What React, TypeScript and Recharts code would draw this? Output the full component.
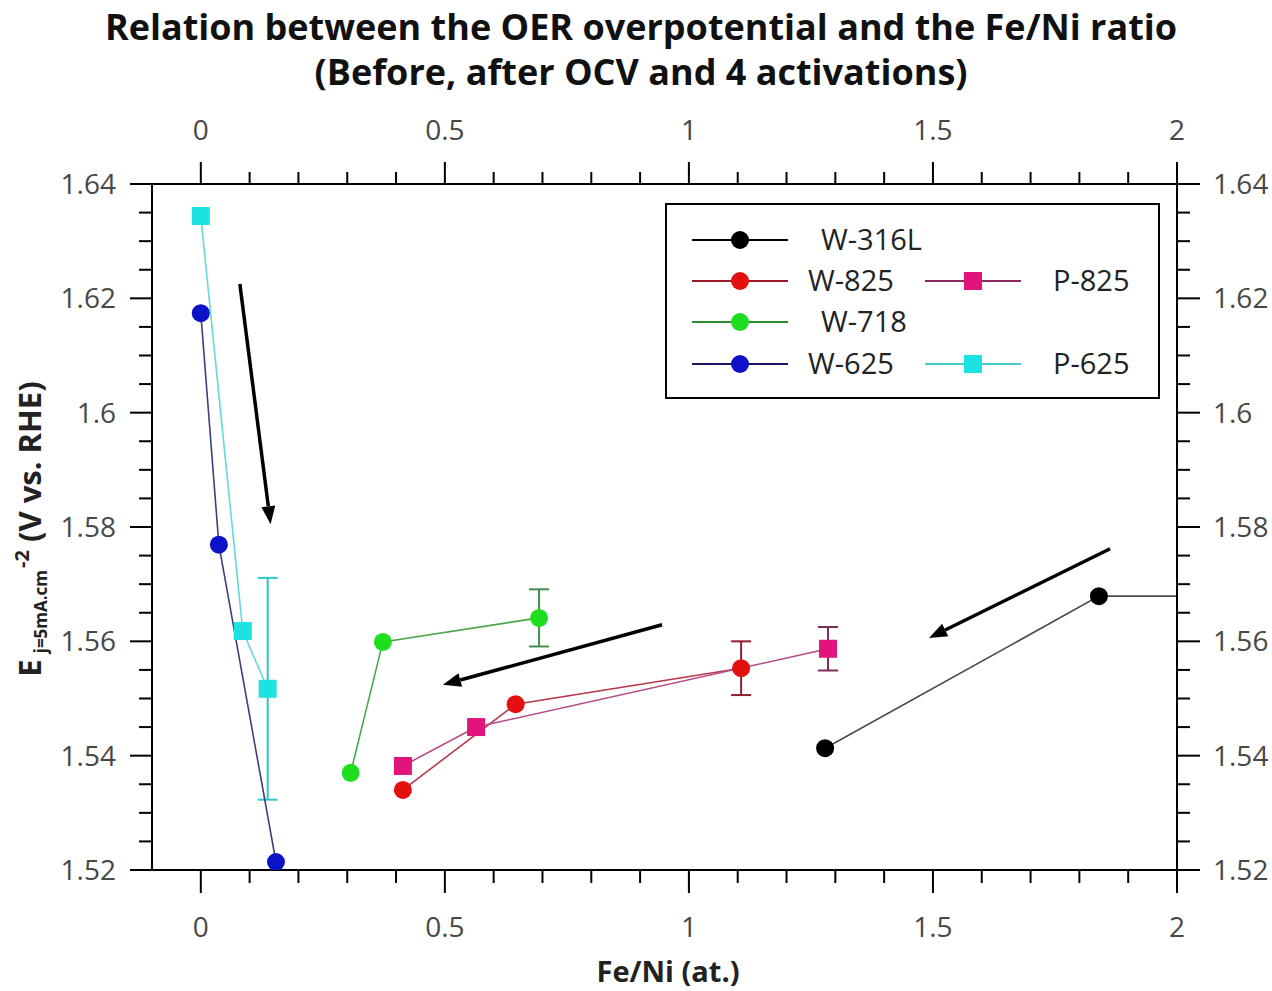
import React from 'react';
import { ComposedChart, Line, XAxis, YAxis, ErrorBar, ReferenceLine } from 'recharts';

const FONT = '"Open Sans", "Noto Sans", sans-serif';

// tick values (major ones get labels)
const xMajorTicks = [0, 0.5, 1, 1.5, 2];
const xAllTicks = [0, 0.1, 0.2, 0.3, 0.4, 0.5, 0.6, 0.7, 0.8, 0.9, 1, 1.1, 1.2, 1.3, 1.4, 1.5, 1.6, 1.7, 1.8, 1.9, 2];
const yMajorTicks = [1.52, 1.54, 1.56, 1.58, 1.6, 1.62, 1.64];
const yAllTicks = [
  1.52, 1.525, 1.53, 1.535, 1.54, 1.545, 1.55, 1.555, 1.56, 1.565, 1.57, 1.575, 1.58,
  1.585, 1.59, 1.595, 1.6, 1.605, 1.61, 1.615, 1.62, 1.625, 1.63, 1.635, 1.64,
];

// x = Fe/Ni (at.), y = E at 5 mA/cm2 (V vs RHE), err = +/- error
const W316L = [
  { x: 1.279, y: 1.5413 },
  { x: 1.84, y: 1.5679 },
  { x: 2.45, y: 1.5679 }, // off scale, the line runs out past the right axis
];
const W825 = [
  { x: 0.414, y: 1.534 },
  { x: 0.645, y: 1.549 },
  { x: 1.107, y: 1.5553, err: 0.0047 },
];
const W718 = [
  { x: 0.307, y: 1.537 },
  { x: 0.373, y: 1.5599 },
  { x: 0.693, y: 1.5641, err: 0.005 },
];
const W625 = [
  { x: 0, y: 1.6174 },
  { x: 0.037, y: 1.5769 },
  { x: 0.154, y: 1.5214 },
];
const P825 = [
  { x: 0.414, y: 1.5382 },
  { x: 0.564, y: 1.545 },
  { x: 1.285, y: 1.5587, err: 0.0038 },
];
const P625 = [
  { x: 0, y: 1.6344 },
  { x: 0.086, y: 1.5618 },
  { x: 0.137, y: 1.5517, err: 0.0194 },
];

// annotation arrows (from -> to)
const ARROWS = [
  [{ x: 0.08, y: 1.6225 }, { x: 0.143, y: 1.5805 }],
  [{ x: 0.945, y: 1.5629 }, { x: 0.496, y: 1.5524 }],
  [{ x: 1.863, y: 1.5762 }, { x: 1.492, y: 1.5606 }],
];

const SERIES = [
  { name: 'W-316L', data: W316L, line: '#4a4a4a', fill: '#000000', err: '#000000', shape: 'circle' },
  { name: 'W-825', data: W825, line: '#b8384c', fill: '#e41010', err: '#8e1e2c', shape: 'circle' },
  { name: 'P-825', data: P825, line: '#b84a86', fill: '#e2147c', err: '#7e2a5c', shape: 'square' },
  { name: 'W-718', data: W718, line: '#4aa84a', fill: '#1fde1f', err: '#3f8f4f', shape: 'circle' },
  { name: 'P-625', data: P625, line: '#66d8d8', fill: '#1ee2e2', err: '#2cc6c6', shape: 'square' },
  { name: 'W-625', data: W625, line: '#423c7c', fill: '#0c12c8', err: '#0c12c8', shape: 'circle' },
];

// legend layout: [series name, column, row]
const LEGEND_ITEMS: [string, number, number][] = [
  ['W-316L', 0, 0],
  ['W-825', 0, 1],
  ['P-825', 1, 1],
  ['W-718', 0, 2],
  ['W-625', 0, 3],
  ['P-625', 1, 3],
];
const LEGEND_LINE: Record<string, string> = {
  'W-316L': '#000000',
  'W-825': '#9a1a2a',
  'P-825': '#8e2a60',
  'W-718': '#2f8f2f',
  'W-625': '#141460',
  'P-625': '#46cccc',
};
const LEGEND_INDENT: Record<string, number> = { 'W-316L': 13, 'W-718': 13 };

const isMajor = (v: number, majors: number[]) => majors.some((m) => Math.abs(m - v) < 1e-6);
const fmt = (v: number) => String(Number(v.toFixed(3)));

const labelStyle = { fontFamily: FONT, fontSize: 28, fill: '#484848' };

const BottomTick = (props: any) => {
  const { x, y, payload } = props;
  const major = isMajor(payload.value, xMajorTicks);
  return (
    <g>
      <line x1={x} x2={x} y1={y} y2={y + (major ? 23 : 13)} stroke="#000" strokeWidth={2} />
      {major && (
        <text x={x} y={y + 67} textAnchor="middle" style={labelStyle}>
          {fmt(payload.value)}
        </text>
      )}
    </g>
  );
};

const TopTick = (props: any) => {
  const { x, y, payload } = props;
  const major = isMajor(payload.value, xMajorTicks);
  return (
    <g>
      <line x1={x} x2={x} y1={y} y2={y - (major ? 22 : 12)} stroke="#000" strokeWidth={2} />
      {major && (
        <text x={x} y={y - 44} textAnchor="middle" style={labelStyle}>
          {fmt(payload.value)}
        </text>
      )}
    </g>
  );
};

const LeftTick = (props: any) => {
  const { x, y, payload } = props;
  const major = isMajor(payload.value, yMajorTicks);
  return (
    <g>
      <line x1={x} x2={x - (major ? 22 : 13)} y1={y} y2={y} stroke="#000" strokeWidth={2} />
      {major && (
        <text x={x - 36} y={y + 10} textAnchor="end" style={labelStyle}>
          {fmt(payload.value)}
        </text>
      )}
    </g>
  );
};

const RightTick = (props: any) => {
  const { x, y, payload } = props;
  const major = isMajor(payload.value, yMajorTicks);
  return (
    <g>
      <line x1={x} x2={x + (major ? 23 : 13)} y1={y} y2={y} stroke="#000" strokeWidth={2} />
      {major && (
        <text x={x + 36} y={y + 10} textAnchor="start" style={labelStyle}>
          {fmt(payload.value)}
        </text>
      )}
    </g>
  );
};

const makeDot = (shape: string, color: string) => (p: any) => {
  const k = `dot-${p.index}`;
  if (p.cx == null || p.cy == null) return <g key={k} />;
  if (shape === 'square') {
    return <rect key={k} x={p.cx - 9} y={p.cy - 9} width={18} height={18} fill={color} />;
  }
  return <circle key={k} cx={p.cx} cy={p.cy} r={9} fill={color} />;
};

const arrowShape = (p: any) => {
  const { x1, y1, x2, y2 } = p;
  const a = Math.atan2(y2 - y1, x2 - x1);
  const len = 18;
  const half = 7;
  const bx = x2 - len * Math.cos(a);
  const by = y2 - len * Math.sin(a);
  const nx = -Math.sin(a) * half;
  const ny = Math.cos(a) * half;
  return (
    <g>
      <line x1={x1} y1={y1} x2={bx} y2={by} stroke="#000" strokeWidth={3.5} />
      <polygon points={`${x2},${y2} ${bx + nx},${by + ny} ${bx - nx},${by - ny}`} fill="#000" />
    </g>
  );
};

function LegendBox() {
  const colX = [692, 925];
  const rowY = [240, 281, 322, 364];
  return (
    <g>
      <rect x={666} y={204} width={493} height={194} fill="#fff" stroke="#000" strokeWidth={2} />
      {LEGEND_ITEMS.map(([name, c, r]) => {
        const s = SERIES.find((d) => d.name === name)!;
        const x0 = colX[c];
        const y0 = rowY[r];
        const tx = c === 0 ? 808 + (LEGEND_INDENT[name] || 0) : 1053;
        return (
          <g key={name}>
            <line x1={x0} x2={x0 + 96} y1={y0} y2={y0} stroke={LEGEND_LINE[name]} strokeWidth={2} />
            {s.shape === 'square' ? (
              <rect x={x0 + 48 - 9} y={y0 - 9} width={18} height={18} fill={s.fill} />
            ) : (
              <circle cx={x0 + 48} cy={y0} r={9} fill={s.fill} />
            )}
            <text x={tx} y={y0 + 10} style={{ fontFamily: FONT, fontSize: 29, fill: '#222' }}>
              {name}
            </text>
          </g>
        );
      })}
    </g>
  );
}

export default function App() {
  return (
    <div style={{ position: 'absolute', left: 0, top: 0, width: 1272, height: 991, background: '#fff' }}>
      <ComposedChart width={1272} height={991} margin={{ top: 124, right: 15, bottom: 61, left: 72 }}>
        <XAxis
          xAxisId="bottom"
          orientation="bottom"
          type="number"
          dataKey="x"
          domain={[-0.1, 2]}
          ticks={xAllTicks}
          interval={0}
          allowDataOverflow
          height={60}
          tickSize={0}
          tickMargin={0}
          tickLine={false}
          tick={<BottomTick />}
          axisLine={{ stroke: '#000', strokeWidth: 2 }}
        />
        <XAxis
          xAxisId="top"
          orientation="top"
          type="number"
          dataKey="x"
          domain={[-0.1, 2]}
          ticks={xAllTicks}
          interval={0}
          allowDataOverflow
          height={60}
          tickSize={0}
          tickMargin={0}
          tickLine={false}
          tick={<TopTick />}
          axisLine={{ stroke: '#000', strokeWidth: 2 }}
        />
        <YAxis
          yAxisId="left"
          orientation="left"
          type="number"
          domain={[1.52, 1.64]}
          ticks={yAllTicks}
          interval={0}
          allowDataOverflow
          width={80}
          tickSize={0}
          tickMargin={0}
          tickLine={false}
          tick={<LeftTick />}
          axisLine={{ stroke: '#000', strokeWidth: 2 }}
        />
        <YAxis
          yAxisId="right"
          orientation="right"
          type="number"
          domain={[1.52, 1.64]}
          ticks={yAllTicks}
          interval={0}
          allowDataOverflow
          width={80}
          tickSize={0}
          tickMargin={0}
          tickLine={false}
          tick={<RightTick />}
          axisLine={{ stroke: '#000', strokeWidth: 2 }}
        />
        {SERIES.map((s) => (
          <Line
            key={s.name}
            xAxisId="bottom"
            yAxisId="left"
            data={s.data}
            dataKey="y"
            name={s.name}
            type="linear"
            stroke={s.line}
            strokeWidth={1.6}
            dot={makeDot(s.shape, s.fill)}
            activeDot={false}
            isAnimationActive={false}
          >
            <ErrorBar dataKey="err" direction="y" width={10} stroke={s.err} strokeWidth={2} />
          </Line>
        ))}
        {ARROWS.map((seg, i) => (
          <ReferenceLine
            key={`arrow-${i}`}
            xAxisId="bottom"
            yAxisId="left"
            segment={seg}
            shape={arrowShape}
            ifOverflow="visible"
          />
        ))}
      </ComposedChart>
      <svg
        width={1272}
        height={991}
        style={{ position: 'absolute', left: 0, top: 0, pointerEvents: 'none' }}
      >
        <text x={641} y={40} textAnchor="middle" style={{ fontFamily: FONT, fontSize: 36, fontWeight: 700, fill: '#111' }}>
          Relation between the OER overpotential and the Fe/Ni ratio
        </text>
        <text x={641} y={85} textAnchor="middle" style={{ fontFamily: FONT, fontSize: 36, fontWeight: 700, fill: '#111' }}>
          (Before, after OCV and 4 activations)
        </text>
        <text x={668} y={982} textAnchor="middle" style={{ fontFamily: FONT, fontSize: 29, fontWeight: 700, fill: '#222' }}>
          Fe/Ni (at.)
        </text>
        <text
          transform="translate(41, 529) rotate(-90)"
          textAnchor="middle"
          style={{ fontFamily: FONT, fontWeight: 700, fill: '#222', fontSize: 31 }}
        >
          <tspan>E</tspan>
          <tspan dx={6} dy={6} style={{ fontSize: 17 }}>j=5mA.cm</tspan>
          <tspan dx={2} dy={-18} style={{ fontSize: 20 }}>-2</tspan>
          <tspan dy={12}> (V vs. RHE)</tspan>
        </text>
        <LegendBox />
      </svg>
    </div>
  );
}
